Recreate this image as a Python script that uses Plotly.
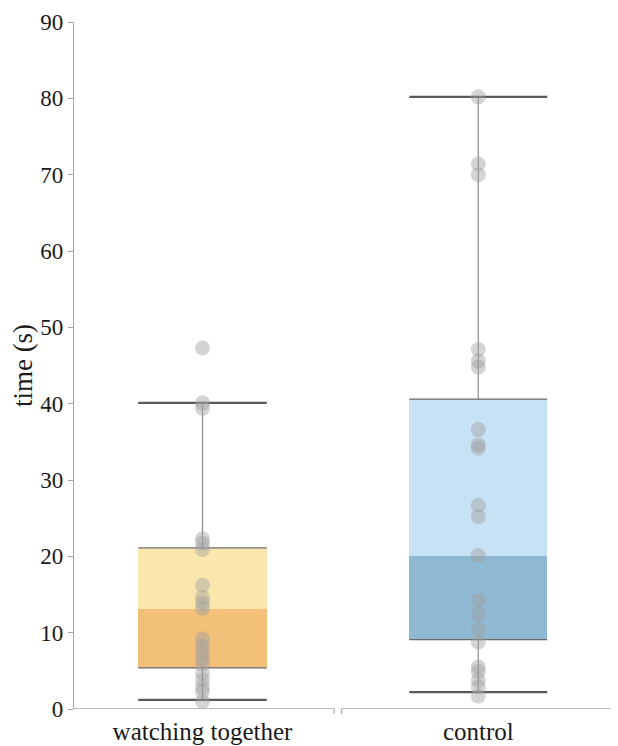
import plotly.graph_objects as go

# ---- data ----
categories = ["watching together", "control"]
watching_points = [47.3, 40.1, 39.4, 22.3, 21.7, 20.9, 16.2, 14.6, 13.9, 13.2,
                   9.2, 8.3, 7.5, 6.6, 5.9, 4.7, 3.8, 2.9, 2.3, 1.0]
control_points = [80.2, 71.4, 70.0, 47.1, 45.6, 44.8, 36.6, 34.6, 34.2, 26.7,
                  25.2, 20.1, 14.2, 12.4, 10.4, 8.8, 5.5, 4.9, 3.8, 2.9, 1.7]
lower_whisker = [1.2, 2.2]
q1 = [5.4, 9.1]
median = [13.1, 20.1]
q3 = [21.1, 40.6]
upper_whisker = [40.1, 80.2]
y_ticks = [0, 10, 20, 30, 40, 50, 60, 70, 80, 90]

# ---- styles ----
box_widths = [0.466, 0.5]
dark_colors = ["#F2C078", "#8FB9D3"]
light_colors = ["#FBE7AE", "#C6E2F4"]
font_family = "Liberation Serif, Times New Roman, serif"

xs = list(range(len(categories)))
fig = go.Figure()

# lower half of boxes (q1 -> median)
fig.add_trace(go.Bar(x=xs, base=q1, y=[m - a for m, a in zip(median, q1)],
                     width=box_widths, marker=dict(color=dark_colors, line=dict(width=0)),
                     hoverinfo="skip", showlegend=False))
# upper half of boxes (median -> q3)
fig.add_trace(go.Bar(x=xs, base=median, y=[b - m for m, b in zip(median, q3)],
                     width=box_widths, marker=dict(color=light_colors, line=dict(width=0)),
                     hoverinfo="skip", showlegend=False))

for i in xs:
    w = box_widths[i] / 2
    # whiskers
    fig.add_trace(go.Scatter(x=[i, i, None, i, i],
                             y=[lower_whisker[i], q1[i], None, q3[i], upper_whisker[i]],
                             mode="lines", line=dict(color="#8a8a8a", width=1.2),
                             hoverinfo="skip", showlegend=False))
    # box edges
    fig.add_trace(go.Scatter(x=[i - w, i + w, None, i - w, i + w],
                             y=[q1[i], q1[i], None, q3[i], q3[i]],
                             mode="lines", line=dict(color="#6a6a6a", width=1.3),
                             hoverinfo="skip", showlegend=False))
    # caps
    fig.add_trace(go.Scatter(x=[i - w, i + w, None, i - w, i + w],
                             y=[lower_whisker[i], lower_whisker[i], None,
                                upper_whisker[i], upper_whisker[i]],
                             mode="lines", line=dict(color="#5a5a5a", width=2.2),
                             hoverinfo="skip", showlegend=False))

for i, pts in enumerate([watching_points, control_points]):
    fig.add_trace(go.Scatter(x=[i] * len(pts), y=pts, mode="markers",
                             marker=dict(size=15, color="rgba(160,160,160,0.45)",
                                         line=dict(width=0)),
                             hoverinfo="y", showlegend=False))

# split x-axis line with small end ticks
gap_l, gap_r = 0.4775, 0.504
x_lo, x_hi = -0.466, 1.503
axis_col = "#a6a6a6"
for a, b in [(x_lo, gap_l), (gap_r, x_hi)]:
    fig.add_shape(type="line", xref="x", yref="y", x0=a, x1=b, y0=0, y1=0,
                  line=dict(color=axis_col, width=1.3))
for gx in [gap_l, gap_r]:
    fig.add_shape(type="line", xref="x", yref="paper", x0=gx, x1=gx, y0=0, y1=-0.0068,
                  line=dict(color=axis_col, width=1.3))

fig.update_layout(
    width=618, height=746,
    margin=dict(l=66, r=9, t=14, b=45),
    paper_bgcolor="white", plot_bgcolor="white",
    barmode="overlay", bargap=0,
    font=dict(family=font_family, color="#1a1a1a"),
    xaxis=dict(range=[x_lo, x_hi], tickvals=xs, ticktext=categories,
               showline=False, showgrid=False, zeroline=False, ticks="",
               ticklabelstandoff=5, automargin=False,
               tickfont=dict(size=25, family=font_family)),
    yaxis=dict(range=[0, 90], tickvals=y_ticks, showgrid=False, zeroline=False,
               showline=True, linecolor=axis_col, linewidth=1.3,
               ticks="outside", ticklen=5, tickcolor=axis_col, tickwidth=1.3,
               ticklabeloverflow="allow", automargin=False,
               tickfont=dict(size=23, family=font_family),
               title=dict(text="time (s)", font=dict(size=27, family=font_family),
                          standoff=0)),
)

fig.write_html("out.html")
